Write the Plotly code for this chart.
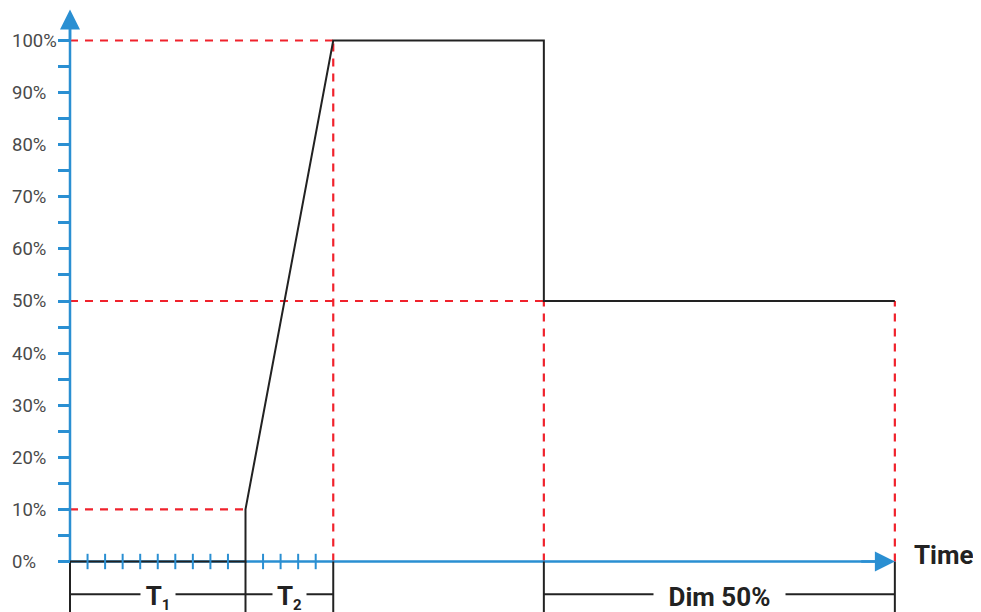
import plotly.graph_objects as go

# ---- data ----
time_points = [0, 10, 10, 15, 27, 27, 47]
level_pct = [0, 0, 10, 100, 100, 50, 50]

y_tick_vals = [0, 10, 20, 30, 40, 50, 60, 70, 80, 90, 100]
y_tick_text = ["0%", "10%", "20%", "30%", "40%", "50%", "60%", "70%", "80%", "90%", "100%"]
y_minor_vals = [5, 15, 25, 35, 45, 55, 65, 75, 85, 95]
x_step_ticks = [1, 2, 3, 4, 5, 6, 7, 8, 9, 11, 12, 13, 14]

# reference (red dashed) lines: horizontal (level, x_start, x_end) and vertical (x, y_top)
ref_h = [(100, 0, 15), (10, 0, 10), (50, 0, 47)]
ref_v = [(15, 100), (27, 50), (47, 50)]

# dimension intervals (label, start, end)
intervals = [("<b>T<sub><span style='font-size:15px'>1</span></sub></b>", 0, 10),
             ("<b>T<sub><span style='font-size:15px'>2</span></sub></b>", 10, 15),
             ("<b>Dim 50%</b>", 27, 47)]
label_widths = [32, 31, 129]
dim_edges = [0, 10, 15, 27, 47]

BLUE = "#2a8fd2"
RED = "#f0222c"
BLACK = "#222222"
GRAY = "#4a4a4a"

OFF = 8  # page body margin
W, H = 981 - OFF, 612 - OFF
PX_PER_X = 17.55
PX_PER_Y = 5.21
X0_PX = 70 - OFF
Y0_PX = 561.5 - OFF
x_range = [-X0_PX / PX_PER_X, (W - X0_PX) / PX_PER_X]
y_range = [-(H - Y0_PX) / PX_PER_Y, Y0_PX / PX_PER_Y]
dim_y = -6.3

fig = go.Figure()

# red dashed reference lines
for lvl, xs, xe in ref_h:
    fig.add_trace(go.Scatter(x=[xs, xe], y=[lvl, lvl], mode="lines",
                             line=dict(color=RED, width=2.2, dash="8px,7px")))
for xv, yt in ref_v:
    fig.add_trace(go.Scatter(x=[xv, xv], y=[0, yt], mode="lines",
                             line=dict(color=RED, width=2.2, dash="8px,7px")))

# blue axes lines
fig.add_trace(go.Scatter(x=[0, 46], y=[0, 0], mode="lines",
                         line=dict(color=BLUE, width=2.5)))
fig.add_trace(go.Scatter(x=[0, 0], y=[0, 104], mode="lines",
                         line=dict(color=BLUE, width=2.5)))

# dimension lines (vertical)
for xe in dim_edges:
    fig.add_trace(go.Scatter(x=[xe, xe], y=[0, y_range[0] - 1], mode="lines",
                             line=dict(color=BLACK, width=2)))
# dimension lines (horizontal)
for _, xs, xe in intervals:
    fig.add_trace(go.Scatter(x=[xs, xe], y=[dim_y, dim_y], mode="lines",
                             line=dict(color=BLACK, width=2)))

# main black profile
fig.add_trace(go.Scatter(x=time_points, y=level_pct, mode="lines",
                         line=dict(color=BLACK, width=2)))

# blue step ticks crossing the time axis
fig.add_trace(go.Scatter(x=x_step_ticks, y=[0] * len(x_step_ticks), mode="markers",
                         marker=dict(symbol="line-ns", size=11,
                                     line=dict(color=BLUE, width=2))))

# invisible trace to activate the label axis
fig.add_trace(go.Scatter(x=[0, 0], y=[0, 100], yaxis="y2", mode="lines",
                         line=dict(width=0), opacity=0))

annotations = []
# arrows
annotations.append(dict(x=0, y=100 + (41 - 10) / PX_PER_Y,
                        ax=0, ay=100, xref="x", yref="y",
                        axref="x", ayref="y", text="", showarrow=True,
                        arrowhead=2, arrowsize=1.6, arrowwidth=2.5,
                        arrowcolor=BLUE, standoff=0))
annotations.append(dict(x=47, y=0, ax=45, ay=0, xref="x", yref="y",
                        axref="x", ayref="y", text="", showarrow=True,
                        arrowhead=2, arrowsize=1.6, arrowwidth=2.5,
                        arrowcolor=BLUE, standoff=0))
# interval labels
for (txt, xs, xe), wd in zip(intervals, label_widths):
    annotations.append(dict(x=(xs + xe) / 2, y=dim_y, xref="x", yref="y",
                            text=txt, showarrow=False, bgcolor="white",
                            width=wd, borderpad=1, xanchor="center",
                            yanchor="middle", yshift=-3,
                            font=dict(family="Roboto", size=26, color=BLACK)))
# Time label
annotations.append(dict(x=47.95, y=1.3, xref="x", yref="y", text="<b>Time</b>",
                        showarrow=False, xanchor="left", yanchor="middle",
                        font=dict(family="Roboto", size=26, color=BLACK)))

fig.update_layout(
    width=W, height=H,
    margin=dict(l=0, r=0, t=0, b=0),
    plot_bgcolor="white", paper_bgcolor="white",
    showlegend=False, hovermode=False,
    annotations=annotations,
    xaxis=dict(range=x_range, visible=False, fixedrange=True),
    yaxis=dict(range=y_range, anchor="free", position=X0_PX / W,
               showgrid=False, zeroline=False, showline=False,
               tickvals=y_tick_vals, ticks="outside", ticklen=12,
               tickwidth=2.5, tickcolor=BLUE, showticklabels=False,
               minor=dict(tickvals=y_minor_vals, ticks="outside", ticklen=12,
                          tickwidth=2.5, tickcolor=BLUE),
               fixedrange=True),
    yaxis2=dict(range=y_range, overlaying="y", anchor="free", side="right",
                position=(11 - OFF) / W, showgrid=False, zeroline=False,
                showline=False, tickmode="array", tickvals=y_tick_vals,
                ticktext=y_tick_text, ticks="",
                tickfont=dict(family="Roboto", size=18.5, color=GRAY),
                fixedrange=True),
)

fig.write_html("out.html")
